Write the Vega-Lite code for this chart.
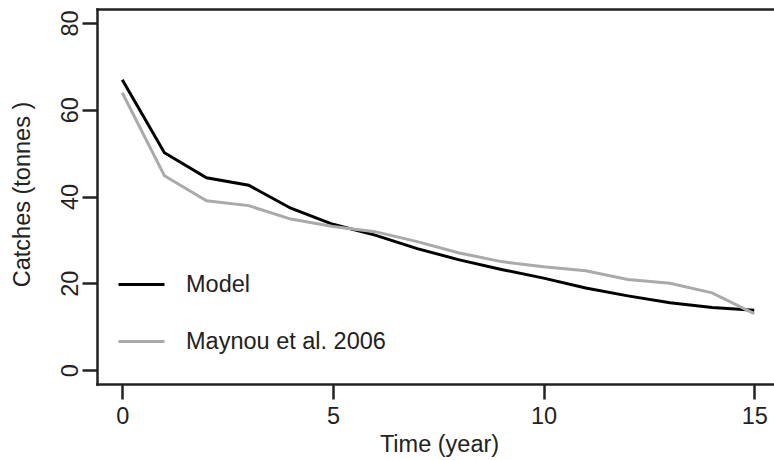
{
  "$schema": "https://vega.github.io/schema/vega-lite/v6.json",
  "width": 676,
  "height": 375,
  "autosize": {"type": "none"},
  "padding": {"left": 97, "top": 9, "right": 1, "bottom": 76},
  "background": "white",
  "config": {
    "view": {"stroke": null},
    "font": "Liberation Sans",
    "axis": {
      "domainColor": "#222222",
      "domainWidth": 2.5,
      "domainCap": "square",
      "tickColor": "#222222",
      "tickWidth": 2.5,
      "tickSize": 15,
      "grid": false,
      "labelFont": "Liberation Sans",
      "labelFontSize": 23.5,
      "labelColor": "#222222",
      "titleFont": "Liberation Sans",
      "titleFontSize": 23.5,
      "titleFontWeight": "normal",
      "titleColor": "#222222"
    }
  },
  "data": {
    "values": [
      {"series": "Model", "time": 0, "catches": 66.9},
      {"series": "Model", "time": 1, "catches": 50.1},
      {"series": "Model", "time": 2, "catches": 44.3},
      {"series": "Model", "time": 3, "catches": 42.6},
      {"series": "Model", "time": 4, "catches": 37.3},
      {"series": "Model", "time": 5, "catches": 33.6},
      {"series": "Model", "time": 6, "catches": 31.1},
      {"series": "Model", "time": 7, "catches": 28.0},
      {"series": "Model", "time": 8, "catches": 25.4},
      {"series": "Model", "time": 9, "catches": 23.2},
      {"series": "Model", "time": 10, "catches": 21.2},
      {"series": "Model", "time": 11, "catches": 18.9},
      {"series": "Model", "time": 12, "catches": 17.1},
      {"series": "Model", "time": 13, "catches": 15.5},
      {"series": "Model", "time": 14, "catches": 14.4},
      {"series": "Model", "time": 15, "catches": 13.8},
      {"series": "Maynou et al. 2006", "time": 0, "catches": 63.9},
      {"series": "Maynou et al. 2006", "time": 1, "catches": 44.8},
      {"series": "Maynou et al. 2006", "time": 2, "catches": 39.0},
      {"series": "Maynou et al. 2006", "time": 3, "catches": 37.9},
      {"series": "Maynou et al. 2006", "time": 4, "catches": 34.8},
      {"series": "Maynou et al. 2006", "time": 5, "catches": 33.1},
      {"series": "Maynou et al. 2006", "time": 6, "catches": 31.9},
      {"series": "Maynou et al. 2006", "time": 7, "catches": 29.6},
      {"series": "Maynou et al. 2006", "time": 8, "catches": 27.0},
      {"series": "Maynou et al. 2006", "time": 9, "catches": 25.0},
      {"series": "Maynou et al. 2006", "time": 10, "catches": 23.8},
      {"series": "Maynou et al. 2006", "time": 11, "catches": 22.9},
      {"series": "Maynou et al. 2006", "time": 12, "catches": 20.9},
      {"series": "Maynou et al. 2006", "time": 13, "catches": 20.0},
      {"series": "Maynou et al. 2006", "time": 14, "catches": 17.8},
      {"series": "Maynou et al. 2006", "time": 15, "catches": 13.0}
    ]
  },
  "layer": [
    {
      "mark": {"type": "line", "strokeWidth": 3, "clip": true},
      "encoding": {
        "x": {
          "field": "time",
          "type": "quantitative",
          "scale": {"domain": [-0.6, 15.445], "nice": false, "zero": false},
          "axis": {
            "orient": "bottom",
            "values": [0, 5, 10, 15],
            "title": "Time (year)",
            "labelBaseline": "alphabetic",
            "labelPadding": 24,
            "labelFlush": false,
            "titleX": 342,
            "titleY": 67,
            "titleBaseline": "alphabetic",
            "titleAlign": "center",
            "titleAnchor": null
          }
        },
        "y": {
          "field": "catches",
          "type": "quantitative",
          "scale": {"domain": [-3.2, 83.2], "nice": false, "zero": false},
          "axis": {
            "values": [0, 20, 40, 60, 80],
            "title": "Catches (tonnes )",
            "labelAngle": 270,
            "labelAlign": "center",
            "labelBaseline": "alphabetic",
            "labelPadding": 5,
            "labelFlush": false,
            "titleAngle": 270,
            "titleX": -75,
            "titleY": 185,
            "titleBaseline": "middle",
            "titleAlign": "center",
            "titleAnchor": null
          }
        },
        "color": {
          "field": "series",
          "type": "nominal",
          "scale": {"domain": ["Model", "Maynou et al. 2006"], "range": ["#000000", "#aaaaaa"]},
          "legend": {
            "orient": "none",
            "legendX": 20,
            "legendY": 251,
            "title": null,
            "padding": 0,
            "symbolType": "stroke",
            "symbolStrokeWidth": 3,
            "symbolSize": 2116,
            "labelFontSize": 23.5,
            "labelFont": "Liberation Sans",
            "labelColor": "#222222",
            "labelOffset": 20,
            "labelLimit": 0,
            "rowPadding": 21
          }
        }
      }
    },
    {
      "mark": {"type": "rule", "strokeOpacity": 0},
      "encoding": {
        "x": {
          "field": "time",
          "type": "quantitative",
          "axis": {"orient": "top", "ticks": false, "labels": false, "title": null}
        }
      }
    }
  ],
  "resolve": {"axis": {"x": "independent"}}
}
